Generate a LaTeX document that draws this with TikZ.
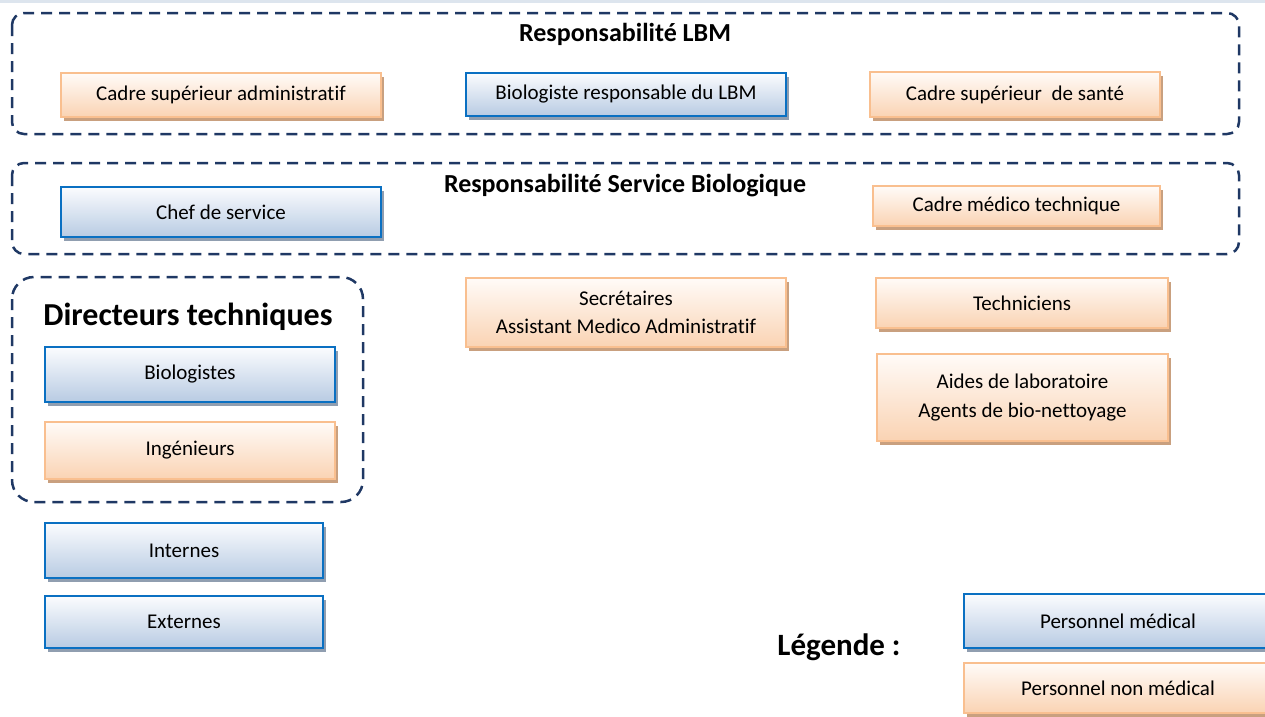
\documentclass[tikz,border=0pt]{standalone}
\usepackage{fontspec}
\setmainfont{Carlito}[Ligatures=NoCommon]
\usetikzlibrary{shadows}

\definecolor{medborder}{HTML}{0A70C2}
\definecolor{medtop}{HTML}{FBFCFE}
\definecolor{medbottom}{HTML}{B8CBE3}
\definecolor{medshadow}{HTML}{909EB0}
\definecolor{nonborder}{HTML}{F9BF8F}
\definecolor{nontop}{HTML}{FFFBF8}
\definecolor{nonbottom}{HTML}{FAD3B3}
\definecolor{nonshadow}{HTML}{C9A07F}
\definecolor{groupline}{HTML}{1F3864}
\definecolor{topband}{HTML}{DDE5EE}

\tikzset{
  x=1pt, y=-1pt,
  card/.style={rectangle, inner sep=2pt, align=center,
    font=\fontsize{21}{28}\selectfont},
  medical/.style={card, draw=medborder, line width=2.5pt,
    top color=medtop, bottom color=medbottom,
    general shadow={fill=medshadow, shadow xshift=3pt, shadow yshift=-4pt}},
  nonmedical/.style={card, draw=nonborder, line width=2.2pt,
    top color=nontop, bottom color=nonbottom,
    general shadow={fill=nonshadow, shadow xshift=3pt, shadow yshift=-4pt}},
  group/.style={draw=groupline, line width=2.5pt,
    dash pattern=on 11pt off 7pt},
  heading/.style={font=\bfseries\fontsize{26}{30}\selectfont},
  sz/.style 2 args={minimum width=#1pt, minimum height=#2pt},
}

\begin{document}
\begin{tikzpicture}
\useasboundingbox (0,0) rectangle (1265,716);
\fill[topband] (0,0) rectangle (1265,3);

% dashed groupings
\draw[group, rounded corners=12pt] (12,13) rectangle (1239,134);
\draw[group, rounded corners=12pt] (12,163) rectangle (1239,254);
\draw[group, rounded corners=22pt] (12,277) rectangle (363,502);

\node[heading] (hlbm) at (625,34) {Responsabilité LBM};
\node[heading] (hserv) at (625,186) {Responsabilité Service Biologique};
\node[font=\bfseries\fontsize{32}{36}\selectfont] (hdir) at (188,317) {Directeurs techniques};
\node[font=\bfseries\fontsize{31}{35}\selectfont] (hleg) at (839,647) {Légende :};

% LBM level
\node[nonmedical, sz={320}{44}] (admin) at (221,95) {Cadre supérieur administratif};
\node[medical, sz={320}{43}] (biores) at (626,94.5) {Biologiste responsable du LBM};
\node[nonmedical, sz={290}{45}] (sante) at (1015,94.5) {Cadre supérieur\ \ de santé};

% service level
\node[medical, sz={320}{50}] (chef) at (221,212) {Chef de service};
\node[nonmedical, sz={287}{40}] (cmt) at (1016.5,206) {Cadre médico technique};

% staff
\node[nonmedical, sz={320}{69}] (secr) at (626,312.5) {Secrétaires\\Assistant Medico Administratif};
\node[nonmedical, sz={292}{50}] (tech) at (1022,303) {Techniciens};
\node[nonmedical, sz={291}{87}, font=\fontsize{21}{29}\selectfont] (aides) at (1022.5,397.5) {Aides de laboratoire\\Agents de bio-nettoyage};

% technical directors
\node[medical, sz={290}{55}] (biol) at (190,374.5) {Biologistes};
\node[nonmedical, sz={290}{57}] (ing) at (190,450.5) {Ingénieurs};

% students
\node[medical, sz={278}{55}] (int) at (184,550.5) {Internes};
\node[medical, sz={278}{52}] (ext) at (184,622) {Externes};

% legend
\node[medical, sz={308}{54}] (pmed) at (1118,621) {Personnel médical};
\node[nonmedical, sz={308}{50}] (pnon) at (1118,688) {Personnel non médical};
\end{tikzpicture}
\end{document}
